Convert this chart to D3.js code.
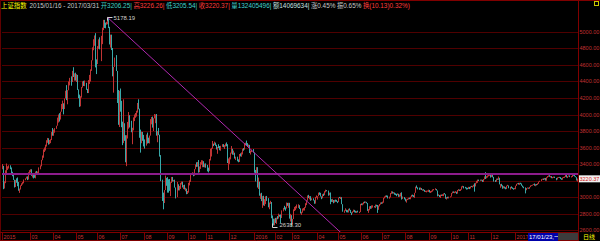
<!DOCTYPE html>
<html>
<head>
<meta charset="utf-8">
<script src="https://cdn.jsdelivr.net/npm/d3@7"></script>
<style>
  html, body { margin: 0; padding: 0; background: #000; overflow: hidden; }
  svg { display: block; }
  text { font-family: "Liberation Sans", "Noto Sans CJK SC", sans-serif; font-size: 6px; }
</style>
</head>
<body>
<svg id="chart" width="600" height="241"></svg>
<script>
// one row per month, daily values of the index (close / high / low)
const monthKeys = ["2015-01","2015-02","2015-03","2015-04","2015-05","2015-06","2015-07","2015-08","2015-09","2015-10","2015-11","2015-12",
  "2016-01","2016-02","2016-03","2016-04","2016-05","2016-06","2016-07","2016-08","2016-09","2016-10","2016-11","2016-12",
  "2017-01","2017-02","2017-03"]

const closes = [
  [3377,3116,3173,3324,3343,3352,3383,3353,3306,3262,3210],
  [3128,3205,3174,3137,3076,3095,3142,3158,3173,3204,3222,3247,3229,3298,3310],
  [3336,3263,3280,3248,3241,3302,3286,3291,3349,3373,3449,3503,3577,3582,3617,3688,3691,3661,3682,3691,3787,3748],
  [3810,3826,3864,3961,3995,3958,4034,4122,4136,4084,4195,4287,4217,4294,4398,4415,4394,4527,4476,4477,4442],
  [4480,4299,4229,4112,4206,4334,4401,4376,4378,4309,4283,4417,4446,4529,4658,4814,4911,4942,4620,4612],
  [4829,4911,4910,4947,5023,5132,5114,5106,5122,5166,5063,4887,4968,4785,4478,4577,4690,4528,4193,4053,4277],
  [4054,3913,3687,3776,3727,3507,3709,3878,3970,3924,3806,3823,3957,3992,4018,4026,4124,4071,3726,3663,3789,3706,3664],
  [3623,3757,3695,3662,3744,3928,3928,3886,3955,3965,3994,3748,3794,3755,3508,3210,2965,2927,3084,3232,3206],
  [3167,3160,3080,3170,3243,3198,3200,3115,3005,3152,3086,3098,3157,3186,3116,3143,3092,3101,3038,3053],
  [3143,3183,3288,3293,3262,3338,3391,3387,3425,3321,3369,3412,3430,3434,3375,3387,3383],
  [3325,3317,3460,3523,3590,3647,3640,3650,3633,3581,3607,3605,3568,3617,3631,3610,3616,3648,3636,3436,3445],
  [3456,3537,3585,3525,3537,3470,3472,3456,3435,3521,3510,3516,3580,3579,3642,3652,3636,3612,3628,3534,3564,3573,3539],
  [3296,3288,3362,3125,3186,3017,3023,2950,3008,2901,2914,3008,2977,2880,2917,2939,2750,2736,2656,2738],
  [2689,2750,2739,2781,2763,2746,2837,2867,2863,2860,2927,2903,2929,2741,2767,2688],
  [2733,2850,2860,2874,2897,2901,2863,2805,2810,2860,2864,2870,2905,2955,3019,2999,3010,2961,2979,2958,2920,3001,3004],
  [3010,3053,3051,3008,2985,3034,3024,3067,3082,3078,3034,3043,2973,2953,2959,2947,2965,2954,2946,2938],
  [2993,2991,2998,2913,2832,2833,2837,2836,2827,2851,2844,2808,2807,2825,2844,2822,2815,2822,2821,2822,2917],
  [2914,2925,2939,2934,2936,2927,2833,2842,2887,2873,2885,2889,2879,2906,2892,2854,2896,2913,2932,2930],
  [2932,2989,3006,3018,3017,2988,2995,3049,3061,3054,3054,3044,3037,3028,3039,3013,3016,3050,2992,2994,2979],
  [2953,2971,2978,2982,2977,3004,3026,3019,3003,3051,3125,3110,3109,3104,3108,3085,3090,3086,3068,3070,3070,3075,3085],
  [3063,3067,3072,3091,3092,3096,3079,3022,3024,3003,3026,3023,3026,3042,3034,2980,2998,2988,2998,3005],
  [3048,3065,3059,3061,3064,3041,3084,3085,3084,3091,3128,3132,3116,3113,3104,3100],
  [3122,3103,3129,3125,3133,3148,3128,3171,3196,3210,3207,3205,3208,3193,3218,3248,3241,3242,3262,3277,3283,3250],
  [3273,3244,3205,3200,3222,3215,3233,3153,3155,3141,3118,3123,3118,3103,3137,3140,3110,3123,3115,3102,3096,3104],
  [3136,3159,3165,3154,3171,3162,3137,3119,3113,3103,3109,3113,3101,3123,3137,3143,3150,3159],
  [3140,3157,3153,3167,3183,3197,3217,3218,3213,3230,3202,3240,3253,3261,3251,3253,3229,3242],
  [3247,3230,3218,3234,3242,3241,3217,3213,3237,3239,3242,3269,3237,3251,3262,3245,3249,3269,3267,3253,3241,3210,3223]
]

const highs = [
  [3400,3262,3190,3324,3406,3372,3384,3384,3358,3300,3288],
  [3169,3205,3226,3237,3182,3102,3142,3166,3181,3212,3227,3247,3250,3300,3325],
  [3336,3336,3287,3273,3266,3309,3316,3309,3359,3383,3450,3503,3577,3600,3634,3688,3716,3712,3691,3700,3787,3836],
  [3818,3835,3864,3962,4000,4016,4034,4128,4168,4120,4195,4288,4356,4296,4400,4444,4462,4529,4573,4499,4507],
  [4489,4459,4304,4241,4222,4334,4402,4408,4412,4384,4310,4417,4480,4547,4658,4814,4912,4958,4986,4668],
  [4829,4911,4935,4954,5052,5147,5147,5112,5123,5178.19,5177,4985,4968,4943,4806,4577,4690,4720,4493,4297,4287],
  [4315,4166,3906,4184,3894,3749,3749,3910,4030,3992,3899,3839,3965,4000,4018,4045,4140,4184,4029,3817,3791,3787,3753],
  [3698,3757,3781,3719,3745,3944,3970,3975,3955,4006,4000,4006,3799,3837,3653,3388,3142,3053,3084,3260,3227],
  [3241,3214,3218,3180,3243,3230,3207,3210,3116,3182,3154,3134,3172,3187,3176,3145,3149,3112,3087,3073],
  [3172,3202,3288,3300,3289,3338,3394,3421,3425,3448,3370,3423,3446,3444,3426,3405,3408],
  [3389,3356,3460,3585,3596,3679,3647,3671,3659,3622,3608,3640,3618,3621,3640,3641,3629,3648,3662,3640,3467],
  [3482,3538,3618,3557,3562,3517,3489,3489,3452,3521,3529,3541,3584,3593,3651,3658,3684,3653,3636,3632,3564,3574,3581],
  [3539,3328,3362,3309,3236,3183,3043,3051,3010,3015,2974,3008,3013,2986,2933,2954,2938,2776,2737,2738],
  [2747,2750,2768,2798,2785,2788,2838,2868,2893,2875,2933,2929,2930,2917,2796,2780],
  [2735,2850,2880,2889,2909,2912,2891,2860,2821,2860,2867,2878,2925,2959,3019,3026,3011,2996,2984,2984,2961,3001,3019],
  [3010,3053,3057,3051,3008,3034,3042,3070,3089,3084,3057,3053,3055,2968,2978,2964,2965,2969,2965,2949],
  [2993,3001,3002,2998,2907,2839,2863,2846,2840,2857,2862,2843,2813,2827,2847,2842,2833,2831,2835,2823,2917],
  [2922,2925,2941,2946,2946,2941,2887,2854,2887,2891,2898,2899,2889,2908,2905,2903,2896,2915,2934,2936],
  [2944,2990,3007,3018,3020,3000,3005,3049,3070,3067,3060,3054,3044,3038,3044,3038,3030,3050,3057,3006,2999],
  [2983,2972,2980,2991,2993,3004,3026,3029,3022,3051,3125,3140,3117,3114,3115,3103,3094,3095,3086,3076,3077,3079,3089],
  [3084,3072,3077,3092,3097,3106,3097,3051,3033,3024,3028,3030,3034,3043,3048,3023,3000,3003,3004,3009],
  [3049,3066,3068,3065,3071,3060,3085,3096,3090,3096,3129,3136,3127,3123,3115,3111],
  [3123,3119,3129,3135,3136,3149,3166,3172,3196,3211,3211,3210,3212,3208,3218,3249,3301,3253,3262,3279,3288,3268],
  [3275,3264,3241,3205,3223,3224,3249,3224,3157,3160,3142,3132,3127,3118,3137,3148,3136,3123,3129,3117,3107,3110],
  [3137,3160,3168,3171,3172,3173,3164,3140,3126,3116,3109,3115,3113,3123,3141,3144,3150,3159],
  [3164,3157,3158,3167,3187,3197,3217,3222,3225,3231,3231,3240,3254,3262,3265,3256,3253,3243],
  [3248,3244,3231,3238,3243,3244,3238,3228,3237,3243,3249,3283,3269,3252,3262,3256,3253,3270,3284,3268,3253,3241,3224]
]

const lows = [
  [3336,3095,3103,3168,3283,3328,3345,3337,3291,3252,3207],
  [3115,3121,3173,3131,3076,3050,3091,3134,3151,3166,3204,3222,3205,3212,3275],
  [3298,3257,3236,3225,3233,3226,3285,3267,3291,3336,3372,3446,3476,3546,3564,3612,3657,3635,3640,3653,3690,3743],
  [3742,3779,3835,3881,3902,3915,3939,4066,4065,4002,4066,4219,4174,4124,4303,4353,4349,4409,4455,4410,4411],
  [4394,4298,4198,4093,4099,4205,4326,4346,4344,4299,4260,4260,4371,4400,4544,4656,4779,4833,4571,4490],
  [4615,4795,4790,4647,4853,5034,5049,5045,5088,5094,5048,4849,4811,4781,4463,4265,4589,4527,4140,3875,3848],
  [4034,3846,3629,3653,3681,3421,3374,3710,3828,3843,3785,3640,3808,3920,3960,3975,4023,4063,3718,3538,3652,3681,3613],
  [3587,3632,3648,3653,3649,3813,3881,3841,3800,3953,3895,3744,3664,3750,3490,3192,2952,2851,2929,3103,3136],
  [3053,3053,3075,3011,3174,3187,3188,3114,2983,2999,3080,3080,3098,3151,3116,3096,3091,3070,3034,3036],
  [3098,3141,3191,3270,3252,3257,3337,3365,3367,3295,3300,3341,3392,3361,3362,3359,3355],
  [3311,3298,3319,3443,3491,3585,3617,3630,3620,3576,3524,3594,3567,3561,3608,3604,3582,3611,3615,3412,3327],
  [3402,3466,3526,3513,3511,3466,3448,3433,3421,3425,3492,3488,3532,3561,3574,3627,3624,3606,3601,3533,3515,3544,3538],
  [3295,3189,3288,3115,3097,3016,2978,2950,2868,2898,2891,2925,2953,2875,2852,2921,2743,2638.30,2655,2661],
  [2686,2674,2730,2739,2761,2682,2746,2826,2849,2834,2860,2893,2870,2738,2703,2639],
  [2666,2745,2830,2840,2862,2868,2854,2801,2784,2811,2836,2836,2886,2902,2956,2987,2972,2954,2962,2957,2918,2920,2991],
  [2969,3010,3026,3005,2974,2989,3012,3022,3057,3069,3016,3021,2913,2941,2939,2924,2932,2943,2941,2926],
  [2941,2986,2976,2913,2822,2808,2831,2815,2813,2812,2836,2806,2781,2802,2819,2814,2809,2807,2813,2805,2817],
  [2901,2900,2911,2926,2930,2922,2832,2808,2839,2857,2859,2871,2874,2866,2885,2808,2845,2887,2908,2917],
  [2919,2931,2983,2997,3000,2982,2980,2996,3038,3042,3041,3028,3023,3010,3023,3002,3002,3006,2969,2977,2971],
  [2947,2932,2963,2970,2974,2973,2999,3007,2999,2989,3053,3107,3092,3087,3089,3085,3076,3077,3063,3060,3056,3066,3061],
  [3055,3049,3057,3066,3081,3086,3078,3008,3014,2999,2988,3013,3012,3010,3030,2979,2969,2983,2983,2995],
  [3017,3044,3050,3046,3050,3038,3044,3076,3074,3073,3089,3117,3104,3104,3090,3093],
  [3097,3096,3104,3122,3115,3126,3065,3143,3166,3173,3194,3198,3195,3183,3182,3213,3218,3226,3236,3250,3257,3235],
  [3241,3238,3187,3182,3186,3208,3208,3153,3112,3129,3100,3105,3103,3094,3096,3132,3106,3090,3106,3098,3088,3094],
  [3094,3134,3155,3151,3147,3155,3136,3117,3106,3044,3082,3103,3100,3100,3119,3133,3140,3147],
  [3137,3131,3141,3146,3159,3183,3193,3209,3206,3210,3199,3198,3234,3245,3245,3237,3228,3226],
  [3232,3230,3203,3212,3231,3234,3217,3208,3209,3230,3232,3244,3237,3230,3248,3241,3236,3243,3257,3249,3239,3200,3187]
]

const firstOpen = 3343

// axis labels
const tickMonths = ["2015-01","2015-03","2015-04","2015-05","2015-06","2015-07","2015-08","2015-09","2015-10","2015-11","2015-12",
  "2016-01","2016-02","2016-03","2016-04","2016-05","2016-06","2016-07","2016-08","2016-09","2016-10","2016-11","2016-12","2017-01"]
const priceTicks = [2600,2800,3000,3200,3400,3600,3800,4000,4200,4400,4600,4800,5000]

const lastPrice = 3220.37
const levelPrice = 3280
// drawn lines: [startIndex, startPrice, endIndex, endPrice]
const trendLines = [
  [98, 5178.19, 330, 2401],
  [252, 2638.30, 538, 3130]
]

const headerItems = [
  ["上证指数", "#ffff00"],
  ["2015/01/16 - 2017/03/31", "#c8c8c8"],
  ["开3206.25|", "#40d0c0"],
  ["高3226.26|", "#ff3c3c"],
  ["低3205.54|", "#40d0d0"],
  ["收3220.37|", "#ff3c3c"],
  ["量132405496|", "#40d0d0"],
  ["额14069634|", "#c8e0e0"],
  ["涨0.45%", "#c8c8c8"],
  ["振0.65%", "#c8c8c8"],
  ["换(10.13)0.32%)", "#ff3c3c"]
]
const cursorDate = "17/01/23,一"
const periodName = "日线"

const W = 600, H = 241
const plotL = 2, plotR = 578, plotT = 2, plotB = 232
const svg = d3.select("#chart")

svg.append("rect").attr("width", W).attr("height", H).attr("fill", "#000")

// flatten the months into one list of days
let days = []
let monthStart = {}
let prevClose = firstOpen
monthKeys.forEach((m, mi) => {
  monthStart[m] = days.length
  closes[mi].forEach((c, di) => {
    days.push({ o: prevClose, h: highs[mi][di], l: lows[mi][di], c: c })
    prevClose = c
  })
})

const x = d3.scaleBand().domain(d3.range(days.length)).range([plotL, plotR]).padding(0)
const y = d3.scaleLinear().domain([2575.8, 5363.6]).range([plotB, plotT])
const bw = x.bandwidth()
const cx = (i) => x(i) + bw / 2

// grid
svg.append("g")
  .selectAll("line")
  .data(priceTicks)
  .join("line")
  .attr("x1", plotL).attr("x2", plotR)
  .attr("y1", (p) => Math.round(y(p)) + 0.5)
  .attr("y2", (p) => Math.round(y(p)) + 0.5)
  .attr("stroke", "#500000")

// frame
svg.append("line").attr("x1", 0).attr("x2", W).attr("y1", 0.5).attr("y2", 0.5).attr("stroke", "#800000")
svg.append("line").attr("x1", 0.5).attr("x2", 0.5).attr("y1", 0).attr("y2", H).attr("stroke", "#600000")
svg.append("line").attr("x1", plotR + 0.5).attr("x2", plotR + 0.5).attr("y1", 0).attr("y2", H).attr("stroke", "#800000")

// candles, 1px wide
svg.append("g")
  .selectAll("rect")
  .data(days)
  .join("rect")
  .attr("x", (d, i) => Math.round(cx(i) - 0.5))
  .attr("width", 1)
  .attr("y", (d) => y(Math.max(d.h, d.o, d.c)))
  .attr("height", (d) => Math.max(1, y(Math.min(d.l, d.o, d.c)) - y(Math.max(d.h, d.o, d.c))))
  .attr("fill", (d) => d.c >= d.o ? "#c03434" : "#38a8a8")

// user lines
const clip = svg.append("clipPath").attr("id", "plot")
clip.append("rect").attr("x", plotL).attr("y", plotT).attr("width", plotR - plotL).attr("height", plotB - plotT)

svg.append("line")
  .attr("x1", plotL).attr("x2", plotR)
  .attr("y1", Math.round(y(levelPrice))).attr("y2", Math.round(y(levelPrice)))
  .attr("stroke", "#8c1c8c").attr("stroke-width", 2)

const line = d3.line().x((p) => cx(p[0])).y((p) => y(p[1]))
svg.append("g").attr("clip-path", "url(#plot)")
  .selectAll("path")
  .data(trendLines)
  .join("path")
  .attr("d", (t) => line([[t[0], t[1]], [t[2], t[3]]]))
  .attr("fill", "none")
  .attr("stroke", "#b028b0")

// max / min labels
let hiIdx = d3.maxIndex(days, (d) => d.h)
let loIdx = d3.minIndex(days, (d) => d.l)
let hx = Math.round(cx(hiIdx)) + 0.5, hy = Math.round(y(days[hiIdx].h)) + 0.5
svg.append("path").attr("d", `M${hx},${hy + 3}V${hy}H${hx + 5}`).attr("fill", "none").attr("stroke", "#d0d0d0")
svg.append("text").attr("x", hx + 6).attr("y", hy + 2).attr("fill", "#d0d0d0").text(d3.format(".2f")(days[hiIdx].h))

let lx = Math.round(cx(loIdx)) + 0.5, ly = Math.round(y(days[loIdx].l)) + 0.5
svg.append("path").attr("d", `M${lx},${ly - 4}V${ly}H${lx + 5}`).attr("fill", "none").attr("stroke", "#d0d0d0")
svg.append("text").attr("x", lx + 7).attr("y", ly - 1).attr("fill", "#d0d0d0").text(d3.format(".2f")(days[loIdx].l))

// right price axis, the label under the last-price box is hidden
svg.append("g")
  .selectAll("text")
  .data(priceTicks.filter((p) => Math.abs(y(p) - y(lastPrice)) > 7))
  .join("text")
  .attr("x", plotR + 1.5)
  .attr("y", (p) => y(p) + 2)
  .attr("fill", "#c03030")
  .style("font-size", "5.5px")
  .text((p) => d3.format(".2f")(p))

svg.append("rect").attr("x", plotR + 1).attr("y", y(lastPrice) - 3.5).attr("width", 21).attr("height", 7).attr("fill", "#f0f0f0")
svg.append("text").attr("x", plotR + 1.5).attr("y", y(lastPrice) + 2).attr("fill", "#d02020")
  .style("font-size", "5.5px").text(d3.format(".2f")(lastPrice))

// bottom date axis
svg.append("line").attr("x1", 0).attr("x2", plotR).attr("y1", plotB + 0.5).attr("y2", plotB + 0.5).attr("stroke", "#800000")
svg.append("line").attr("x1", 0).attr("x2", plotR).attr("y1", H - 0.5).attr("y2", H - 0.5).attr("stroke", "#800000")

const ticks = svg.append("g")
  .selectAll("g")
  .data(tickMonths)
  .join("g")
  .attr("transform", (m) => `translate(${Math.round(x(monthStart[m]))},0)`)
ticks.append("line").attr("x1", 0.5).attr("x2", 0.5).attr("y1", plotB).attr("y2", H).attr("stroke", "#800000")
ticks.append("text")
  .attr("x", 1.5).attr("y", 239)
  .attr("fill", "#c83232")
  .style("font-size", "5.4px")
  .text((m) => m.endsWith("-01") ? m.slice(0, 4) : m.slice(5))

svg.append("rect").attr("x", 528).attr("y", 233).attr("width", 30).attr("height", 8).attr("fill", "#0000a8")
svg.append("text").attr("x", 529).attr("y", 239).attr("fill", "#ffffff").text(cursorDate)
svg.append("rect").attr("x", 558).attr("y", 233).attr("width", 20).attr("height", 7).attr("fill", "#3c3c3c")
svg.append("text").attr("x", 583).attr("y", 239).attr("fill", "#ffff00").text(periodName)

// corner box
svg.append("rect").attr("x", 594.5).attr("y", 1.5).attr("width", 4).attr("height", 4).attr("fill", "none").attr("stroke", "#c8c800")

// header
const header = svg.append("text").attr("x", 1).attr("y", 8).style("font-size", "6.4px")
header.selectAll("tspan")
  .data(headerItems)
  .join("tspan")
  .attr("dx", (d, i) => i == 0 ? 0 : (i == 1 ? 3 : 1.5))
  .attr("fill", (d) => d[1])
  .text((d) => d[0])
</script>
</body>
</html>
